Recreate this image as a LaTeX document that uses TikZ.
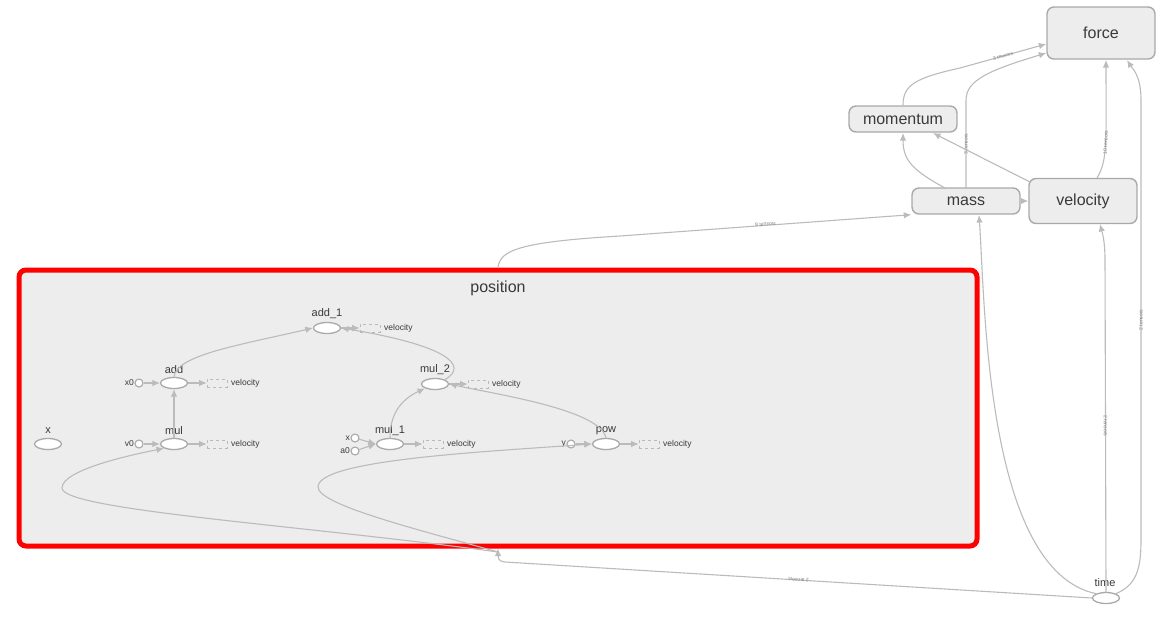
\documentclass[tikz,border=0pt]{standalone}
\usepackage{fontspec}
\setmainfont{Liberation Sans}
\usetikzlibrary{arrows.meta,shapes.geometric}

\definecolor{edgegray}{HTML}{BBBBBB}
\definecolor{nodegray}{HTML}{A9A9A9}
\definecolor{boxfill}{HTML}{EDEDED}
\definecolor{txtgray}{HTML}{3A3A3A}

\begin{document}
\begin{tikzpicture}[x=1pt,y=-1pt,
  meta/.style={draw=nodegray,fill=boxfill,rounded corners=7pt,line width=1.4pt,
    text=txtgray,font=\fontsize{16}{18}\selectfont},
  op/.style={ellipse,draw=nodegray,fill=white,line width=1.3pt,minimum width=27pt,
    minimum height=11pt,inner sep=0pt},
  cst/.style={circle,draw=nodegray,fill=white,line width=1.1pt,minimum size=8pt,inner sep=0pt},
  ref/.style={draw=nodegray!80,dashed,fill=boxfill,line width=0.6pt,minimum width=20pt,
    minimum height=8pt,inner sep=0pt},
  lbl/.style={text=txtgray,inner sep=0pt,font=\fontsize{11}{12}\selectfont},
  small/.style={text=txtgray,inner sep=0pt,font=\fontsize{8.5}{9}\selectfont},
  tiny/.style={text=gray,inner sep=0pt,font=\fontsize{5}{5}\selectfont},
  flow/.style={draw=edgegray,line width=1.1pt,-{Latex[length=7.5pt,width=6.5pt]}}]
\useasboundingbox (0,0) rectangle (1166,619);

% group box
\node[draw=red,line width=5pt,fill=boxfill,rounded corners=7pt,minimum width=958pt,
  minimum height=276pt,inner sep=0pt] (position) at (498,408) {};
\node[lbl,font=\fontsize{16}{18}\selectfont] (position-t) at (498,288) {position};

% top level nodes
\node[meta,minimum width=108pt,minimum height=52pt] (force) at (1101,33) {force};
\node[meta,minimum width=108pt,minimum height=26pt] (momentum) at (903,119) {momentum};
\node[meta,minimum width=108pt,minimum height=26pt] (mass) at (966,201) {mass};
\node[meta,minimum width=108pt,minimum height=45pt] (velocity) at (1083,201) {velocity};
\node[op] (time) at (1106,598) {};
\node[lbl] (time-t) at (1105,583) {time};
\coordinate (pin) at (498,552);

% ops inside position
\node[op] (x) at (48,444) {};
\node[lbl] (x-t) at (48,431) {x};
\node[op] (add) at (174,383) {};
\node[lbl] (add-t) at (174,370) {add};
\node[op] (mul) at (174,444) {};
\node[lbl] (mul-t) at (174,431) {mul};
\node[op] (add1) at (327,328) {};
\node[lbl] (add1-t) at (327,314) {add\_1};
\node[op] (mul2) at (435,384) {};
\node[lbl] (mul2-t) at (435,370) {mul\_2};
\node[op] (mul1) at (390,444) {};
\node[lbl] (mul1-t) at (390,431) {mul\_1};
\node[op] (pow) at (606,444) {};
\node[lbl] (pow-t) at (606,431) {pow};

% constants
\node[cst] (x0) at (139,383) {};
\node[small,anchor=east] (x0-t) at (134,383) {x0};
\node[cst] (v0) at (139,444) {};
\node[small,anchor=east] (v0-t) at (134,444) {v0};
\node[cst] (xc) at (355,438) {};
\node[small,anchor=east] (xc-t) at (350,438) {x};
\node[cst] (a0) at (355,451) {};
\node[small,anchor=east] (a0-t) at (350,451) {a0};
\node[cst] (y) at (571,444) {};
\node[small,anchor=east] (y-t) at (566,444) {y};

% velocity references
\node[ref] (add-v) at (217,383) {};
\node[small,anchor=west] (add-vt) at (231,383) {velocity};
\node[ref] (mul-v) at (217,444) {};
\node[small,anchor=west] (mul-vt) at (231,444) {velocity};
\node[ref] (add1-v) at (370,328) {};
\node[small,anchor=west] (add1-vt) at (384,328) {velocity};
\node[ref] (mul2-v) at (478,384) {};
\node[small,anchor=west] (mul2-vt) at (492,384) {velocity};
\node[ref] (mul1-v) at (433,444) {};
\node[small,anchor=west] (mul1-vt) at (447,444) {velocity};
\node[ref] (pow-v) at (649,444) {};
\node[small,anchor=west] (pow-vt) at (663,444) {velocity};

% edges inside position
\path (x0) edge[flow] (add);
\path (v0) edge[flow] (mul);
\path (xc) edge[flow] (mul1.west);
\path (a0) edge[flow] (mul1.west);
\path (y) edge[flow] (pow);
\path (mul) edge[flow] (add);
\path (add) edge[flow] (add-v);
\path (mul) edge[flow] (mul-v);
\path (add1) edge[flow] (add1-v);
\path (mul2) edge[flow] (mul2-v);
\path (mul1) edge[flow] (mul1-v);
\path (pow) edge[flow] (pow-v);
\draw[flow] (add.north) .. controls (176,355) and (240,345) .. (add1.west);
\draw[flow] (mul2.north east) .. controls (470,365) and (445,345) .. (add1.east);
\draw[flow] (mul1.north) .. controls (390,415) and (400,400) .. (mul2.south west);
\draw[flow] (pow.north) .. controls (600,410) and (500,395) .. (mul2.east);
\draw[flow] (pin) .. controls (300,525) and (62,510) .. (62,488)
  .. controls (62,470) and (130,455) .. (mul.south west);
\draw[flow] (pin) .. controls (420,530) and (318,505) .. (318,487)
  .. controls (318,460) and (480,452) .. (pow.west);

% edges between top level nodes
\draw[flow] (time.west) -- node[tiny,sloped,rotate=180] {2 tensors} (505,562)
  .. controls (498,561) and (498,558) .. (position.south);
\draw[flow] (position.north) .. controls (500,250) and (520,242) .. (620,236)
  -- node[tiny,sloped,above=-1pt] {8 tensors} (mass.south west);
\draw[flow] (time.north west) .. controls (985,570) and (985,300) .. (979,215);
\draw[flow] (time.north) -- node[tiny,sloped] {2 tensors} (1105,260)
  .. controls (1105,240) and (1102,232) .. (1100,224);
\draw[flow] (time.north east) .. controls (1136,585) and (1141,570) .. (1141,540)
  -- node[tiny,sloped] {2 tensors} (1141,100) .. controls (1141,75) and (1132,68) .. (1127,60);
\draw[flow] (momentum.north) .. controls (903,85) and (915,78) .. (960,68)
  -- node[tiny,sloped] {3 tensors} (force.west |- 0,44);
\draw[flow] (966,188) -- node[tiny,sloped] {3 tensors} (966,100)
  .. controls (966,80) and (990,70) .. (force.west |- 0,53);
\draw[flow] (945,188) .. controls (912,170) and (903,160) .. (903,133);
\draw[flow] (1030,182) -- (933,133);
\draw[flow] (1097,178) .. controls (1108,160) and (1106,140) .. node[tiny,sloped] {10 tensors} (1106,60);
\draw[flow] (mass) -- (velocity);
\end{tikzpicture}
\end{document}
